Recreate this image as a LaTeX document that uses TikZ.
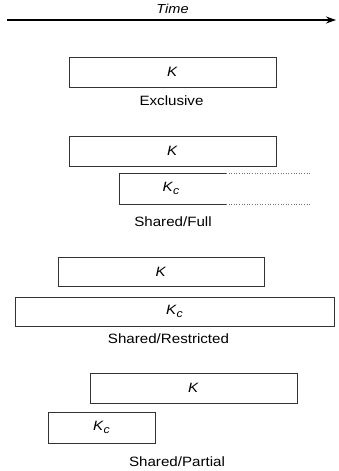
\documentclass[tikz,border=0pt]{standalone}
\usepackage{fontspec}
\setmainfont[FakeStretch=1.12]{Liberation Sans}
\usetikzlibrary{arrows.meta}
\newcommand{\Kc}{\textit{K}\raisebox{-0.45ex}{\fontsize{11}{11}\selectfont\textit{c}}}
\begin{document}
\begin{tikzpicture}[x=1pt,y=-1pt,
  box/.style={draw=black!80, line width=0.8pt, minimum height=30pt, inner sep=0pt, font=\fontsize{13.5}{16}\selectfont},
  lab/.style={anchor=base, inner sep=0pt, font=\fontsize{13.5}{16}\selectfont},
  edge/.style={draw=black!80, line width=0.8pt},
  dot/.style={draw=black!55, line width=0.6pt, dotted}]
\useasboundingbox (0,0) rectangle (339,471);
% time axis
\coordinate (t0) at (7,20);
\coordinate (t1) at (336,20);
\draw[line width=1.1pt, -{Stealth[length=10pt,width=7pt]}] (t0) -- (t1);
\node[lab, font=\fontsize{13}{16}\selectfont\itshape] (time) at (172.5,13) {Time};
% Exclusive
\node[box, minimum width=207pt] (exK) at (172.5,72) {\textit{K}};
\node[lab] (exL) at (171.5,105) {Exclusive};
% Shared/Full
\node[box, minimum width=207pt] (fuK) at (172.5,151) {\textit{K}};
\coordinate (fuA) at (119,173);
\coordinate (fuB) at (226,173);
\coordinate (fuC) at (311,173);
\coordinate (fuD) at (119,204);
\coordinate (fuE) at (226,204);
\coordinate (fuF) at (311,204);
\draw[edge] (fuB) -- (fuA) -- (fuD) -- (fuE);
\draw[dot] (fuB) -- (fuC);
\draw[dot] (fuE) -- (fuF);
\node[inner sep=0pt, font=\fontsize{13.5}{16}\selectfont] (fuKc) at (171,188.5) {\Kc};
\node[lab] (fuL) at (173,226) {Shared/Full};
% Shared/Restricted
\node[box, minimum width=206pt, minimum height=29pt] (reK) at (161,271.5) {\textit{K}};
\node[box, minimum width=319pt, minimum height=29pt] (reKc) at (174.5,311.5) {\Kc};
\node[lab] (reL) at (168.5,343) {Shared/Restricted};
% Shared/Partial
\node[box, minimum width=207pt] (paK) at (193.5,388) {\textit{K}};
\node[box, minimum width=107pt, minimum height=31pt] (paKc) at (101.5,427.5) {\Kc};
\node[lab] (paL) at (177,466) {Shared/Partial};
\end{tikzpicture}
\end{document}
